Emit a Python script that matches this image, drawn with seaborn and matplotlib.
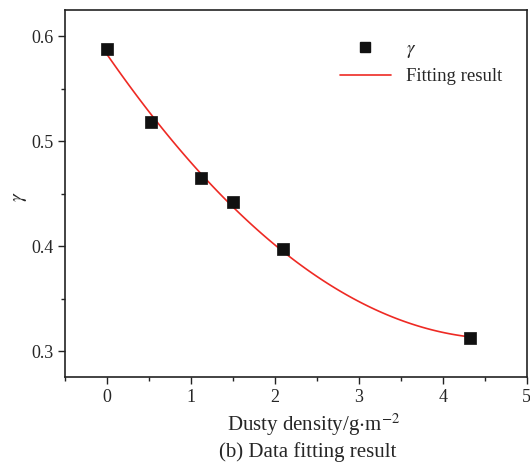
import numpy as np
import pandas as pd
import matplotlib
matplotlib.use("Agg")
import matplotlib.pyplot as plt
import seaborn as sns
from matplotlib.lines import Line2D
from matplotlib.ticker import MultipleLocator

# measured data
dust_density = [0.0, 0.53, 1.12, 1.50, 2.10, 4.33]
gamma_vals = [0.588, 0.518, 0.465, 0.442, 0.397, 0.313]

x_ticks = [0, 1, 2, 3, 4, 5]
y_ticks = [0.3, 0.4, 0.5, 0.6]

df = pd.DataFrame({"density": dust_density, "gamma": gamma_vals})

sns.set_style("ticks")
plt.rcParams["font.family"] = ["Liberation Serif", "DejaVu Serif"]
plt.rcParams["mathtext.fontset"] = "stix"

fig = plt.figure(figsize=(5.3, 4.67), dpi=100)
ax = fig.add_axes([0.1226, 0.1927, 0.871, 0.786])

# quadratic fit drawn by seaborn
sns.regplot(data=df, x="density", y="gamma", order=2, ci=None, scatter=False,
            line_kws={"color": "#ee2a24", "lw": 1.2}, ax=ax)
sns.scatterplot(data=df, x="density", y="gamma", marker="s", s=64,
                color="#111111", edgecolor="#111111", linewidth=0.5, ax=ax, zorder=3)

ax.set_xlim(-0.5, 5)
ax.set_ylim(0.2755, 0.625)
ax.set_xticks(x_ticks)
ax.set_yticks(y_ticks)
ax.set_xticklabels([str(t) for t in x_ticks])
ax.set_yticklabels([f"{t:.1f}" for t in y_ticks])
ax.xaxis.set_minor_locator(MultipleLocator(0.5))
ax.yaxis.set_minor_locator(MultipleLocator(0.05))
ax.tick_params(which="major", direction="out", length=5, width=1, labelsize=13, color="#222222")
ax.tick_params(which="minor", direction="out", length=3, width=1, color="#222222")
for sp in ax.spines.values():
    sp.set_visible(True)
    sp.set_linewidth(1.2)
    sp.set_color("#222222")

ax.set_xlabel("Dusty density/g$\\cdot$m$^{-2}$", fontsize=15)
ax.xaxis.set_label_coords(0.538, -0.094)
ax.set_ylabel("$\\gamma$", fontsize=14)
ax.yaxis.set_label_coords(-0.077, 0.49)

handles = [
    Line2D([], [], marker="s", ls="none", color="#111111", markersize=6.5),
    Line2D([], [], color="#ee2a24", lw=1.2),
]
ax.legend(handles, ["$\\gamma$", "Fitting result"], loc="upper right",
          frameon=False, fontsize=13.5, handlelength=2.7,
          bbox_to_anchor=(0.983, 0.962), labelspacing=0.45)

fig.text(0.58, 0.032, "(b) Data fitting result", ha="center", va="center", fontsize=15)

fig.savefig("out.png", dpi=100)
